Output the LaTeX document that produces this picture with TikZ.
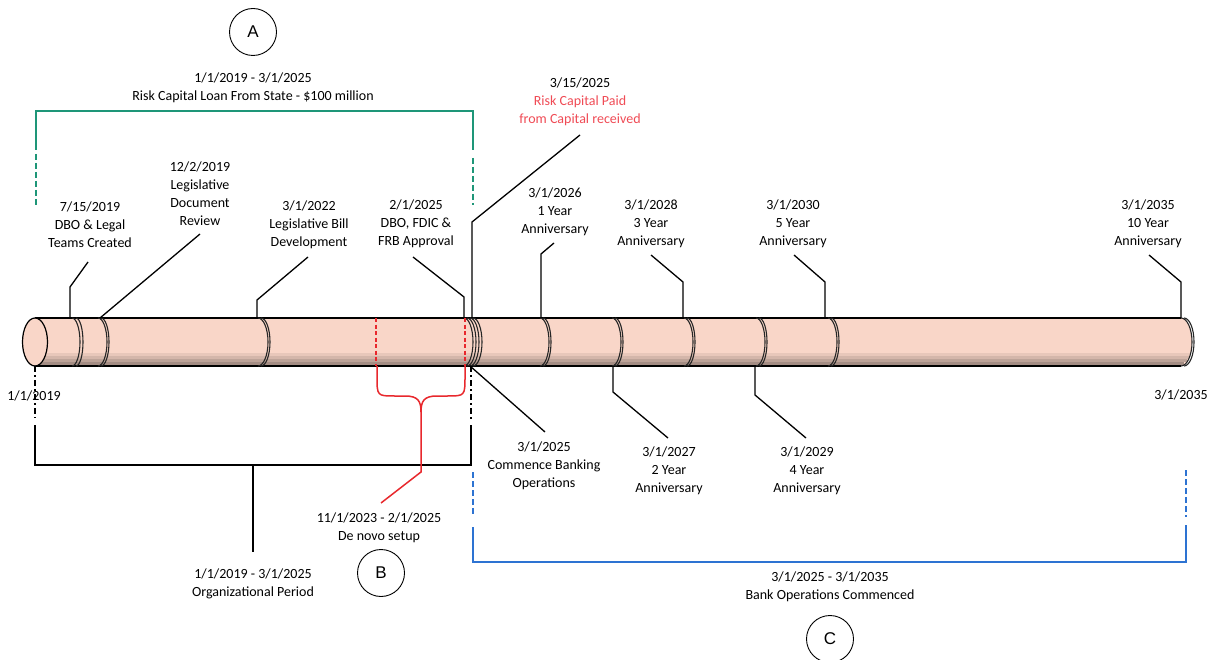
\documentclass[tikz,border=0pt]{standalone}
\usepackage{fontspec}
\setmainfont{Carlito}
\newfontfamily\circfont{Liberation Sans}
\definecolor{cyl}{RGB}{249,214,200}
\definecolor{grn}{RGB}{30,150,120}
\definecolor{blu}{RGB}{45,115,210}
\definecolor{brc}{RGB}{232,40,45}
\definecolor{rtxt}{RGB}{240,75,85}
\newcommand\cjoint[2]{\draw[jointline] (#1,318) arc[start angle=-90,end angle=90,x radius=#2,y radius=24];}
\begin{document}
\begin{tikzpicture}[x=1pt,y=-1pt,
  lbl/.style={font=\fontsize{14}{18}\selectfont, align=center, inner sep=0pt},
  lead/.style={line width=1.3pt, black},
  jointline/.style={line width=1.1pt, black!85},
  circ/.style={draw, circle, minimum size=47pt, inner sep=0pt, line width=0.9pt, font=\circfont\fontsize{17}{17}\selectfont},
  brk/.style={line width=1.6pt},
  dsh/.style={line width=1.6pt, dash pattern=on 6pt off 3pt}]
\fill[white] (0,0) rectangle (1210,660);
\useasboundingbox (0,0) rectangle (1210,660);

% ---------- cylinder ----------
\fill[cyl] (35,318) -- (1181,318) arc[start angle=-90,end angle=90,x radius=11,y radius=24] -- (35,366) -- cycle;
\fill[cyl!93!black] (35,353) rectangle (1190,356);
\fill[cyl!85!black] (35,356) rectangle (1189,359);
\fill[cyl!76!black] (35,359) rectangle (1187,362);
\fill[cyl!66!black] (35,362) rectangle (1184,366);
\draw[line width=1.2pt] (35,318) -- (1181,318);
\draw[line width=1.2pt] (35,366) -- (1181,366);
\cjoint{1181}{11}\cjoint{1184}{10}
\cjoint{72}{8}\cjoint{76}{7}
\cjoint{98}{9}\cjoint{101}{8}
\cjoint{258}{10}\cjoint{261}{9}
\cjoint{464}{9}\cjoint{467}{9}\cjoint{470}{9}\cjoint{473}{9}
\cjoint{540}{9}\cjoint{543}{8}
\cjoint{612}{9}\cjoint{615}{8}
\cjoint{684}{9}\cjoint{687}{8}
\cjoint{756}{9}\cjoint{759}{8}
\cjoint{828}{9}\cjoint{831}{8}
\draw[line width=1.2pt, fill=cyl] (35,342) ellipse[x radius=12.5, y radius=24];
\draw[brc, line width=1.4pt, dash pattern=on 4pt off 2.5pt] (376,318) -- (376,366);
\draw[brc, line width=1.4pt, dash pattern=on 4pt off 2.5pt] (465,318) -- (465,366);

% ---------- circles ----------
\node[circ] (A) at (253,32) {A};
\node[circ] (B) at (381,573) {B};
\node[circ] (C) at (830,639) {C};

% ---------- labels ----------
\node[lbl] (loan) at (253,87.5) {1/1/2019 - 3/1/2025\\Risk Capital Loan From State - \$100 million};
\node[lbl] (d1) at (90,225) {7/15/2019\\DBO \& Legal\\Teams Created};
\node[lbl] (d2) at (200,194) {12/2/2019\\Legislative\\Document\\Review};
\node[lbl] (d3) at (309,225) {3/1/2022\\Legislative Bill\\Development};
\node[lbl] (d4) at (416,224) {2/1/2025\\DBO, FDIC \&\\FRB Approval};
\node[lbl] (d5) at (580,102) {3/15/2025\\\textcolor{rtxt}{Risk Capital Paid}\\\textcolor{rtxt}{from Capital received}};
\node[lbl] (d6) at (555,212) {3/1/2026\\1 Year\\Anniversary};
\node[lbl] (d7) at (651,224) {3/1/2028\\3 Year\\Anniversary};
\node[lbl] (d8) at (793,224) {3/1/2030\\5 Year\\Anniversary};
\node[lbl] (d9) at (1148,224) {3/1/2035\\10 Year\\Anniversary};
\node[lbl] (e1) at (544,466) {3/1/2025\\Commence Banking\\Operations};
\node[lbl] (e2) at (669,471) {3/1/2027\\2 Year\\Anniversary};
\node[lbl] (e3) at (807,471) {3/1/2029\\4 Year\\Anniversary};
\node[lbl] (start) at (34,396) {1/1/2019};
\node[lbl] (end) at (1181,395) {3/1/2035};
\node[lbl] (denovo) at (379,527.5) {11/1/2023 - 2/1/2025\\De novo setup};
\node[lbl] (org) at (253,583.5) {1/1/2019 - 3/1/2025\\Organizational Period};
\node[lbl] (bank) at (830,586.5) {3/1/2025 - 3/1/2035\\Bank Operations Commenced};

% ---------- leader coordinates ----------
\coordinate (p1a) at (70,318);   \coordinate (p1b) at (70,287);   \coordinate (p1c) at (88,262);
\coordinate (p2a) at (100,318);  \coordinate (p2c) at (200,234);
\coordinate (p3a) at (257,318);  \coordinate (p3b) at (257,300);  \coordinate (p3c) at (308,257);
\coordinate (p4a) at (464,318);  \coordinate (p4b) at (464,297);  \coordinate (p4c) at (413,257);
\coordinate (p5a) at (472,318);  \coordinate (p5b) at (472,222);  \coordinate (p5c) at (580,135);
\coordinate (p6a) at (541,318);  \coordinate (p6b) at (541,254);  \coordinate (p6c) at (554,243);
\coordinate (p7a) at (683,318);  \coordinate (p7b) at (683,282);  \coordinate (p7c) at (651,255);
\coordinate (p8a) at (825,318);  \coordinate (p8b) at (825,282);  \coordinate (p8c) at (794,255);
\coordinate (p9a) at (1181,318); \coordinate (p9b) at (1181,282); \coordinate (p9c) at (1149,255);
\coordinate (q1a) at (470,366);  \coordinate (q1c) at (545,432);
\coordinate (q2a) at (613,366);  \coordinate (q2b) at (613,392);  \coordinate (q2c) at (668,438);
\coordinate (q3a) at (755,366);  \coordinate (q3b) at (755,395);  \coordinate (q3c) at (806,438);

\draw[lead] (p1a) -- (p1b) -- (p1c);
\draw[lead] (p2a) -- (p2c);
\draw[lead] (p3a) -- (p3b) -- (p3c);
\draw[lead] (p4a) -- (p4b) -- (p4c);
\draw[lead] (p5a) -- (p5b) -- (p5c);
\draw[lead] (p6a) -- (p6b) -- (p6c);
\draw[lead] (p7a) -- (p7b) -- (p7c);
\draw[lead] (p8a) -- (p8b) -- (p8c);
\draw[lead] (p9a) -- (p9b) -- (p9c);
\draw[lead] (q1a) -- (q1c);
\draw[lead] (q2a) -- (q2b) -- (q2c);
\draw[lead] (q3a) -- (q3b) -- (q3c);

% ---------- green bracket (A) ----------
\coordinate (g1) at (36,150); \coordinate (g2) at (36,111); \coordinate (g3) at (473,111); \coordinate (g4) at (473,150);
\coordinate (g5) at (36,154); \coordinate (g6) at (36,205); \coordinate (g7) at (473,158); \coordinate (g8) at (473,205);
\draw[grn, brk] (g1) -- (g2) -- (g3) -- (g4);
\draw[grn, dsh] (g5) -- (g6);
\draw[grn, dsh] (g7) -- (g8);

% ---------- organizational bracket ----------
\coordinate (o1) at (35,366); \coordinate (o2) at (35,418); \coordinate (o3) at (35,425); \coordinate (o4) at (35,465);
\coordinate (o5) at (471,465); \coordinate (o6) at (471,425); \coordinate (o7) at (471,366); \coordinate (o8) at (471,421);
\coordinate (o9) at (253,465); \coordinate (o10) at (253,552);
\draw[black, line width=1.3pt, dash pattern=on 6pt off 3pt on 2pt off 3pt] (o1) -- (o2);
\draw[black, line width=1.3pt, dash pattern=on 6pt off 3pt on 2pt off 3pt] (o7) -- (o8);
\draw[black, line width=1.5pt] (o3) -- (o4) -- (o5) -- (o6);
\draw[black, line width=1.3pt] (o9) -- (o10);

% ---------- red brace (B) ----------
\coordinate (r1) at (377,366); \coordinate (r2) at (465,366); \coordinate (rtip) at (421,412);
\coordinate (r3) at (421,472); \coordinate (r4) at (381,503);
\draw[brc, line width=1.5pt] (r1) -- (377,376) .. controls (377,396) .. (395,396) -- (405,396)
   .. controls (418,396) and (421,401) .. (rtip);
\draw[brc, line width=1.5pt] (r2) -- (465,376) .. controls (465,396) .. (447,396) -- (437,396)
   .. controls (424,396) and (421,401) .. (rtip);
\draw[brc, line width=1.5pt] (rtip) -- (r3) -- (r4);

% ---------- blue bracket (C) ----------
\coordinate (b1) at (473,472); \coordinate (b2) at (473,517); \coordinate (b3) at (473,527); \coordinate (b4) at (473,562);
\coordinate (b5) at (1186,562); \coordinate (b6) at (1186,525); \coordinate (b7) at (1186,470); \coordinate (b8) at (1186,517);
\draw[blu, dsh] (b1) -- (b2);
\draw[blu, dsh] (b7) -- (b8);
\draw[blu, brk] (b3) -- (b4) -- (b5) -- (b6);
\end{tikzpicture}
\end{document}
